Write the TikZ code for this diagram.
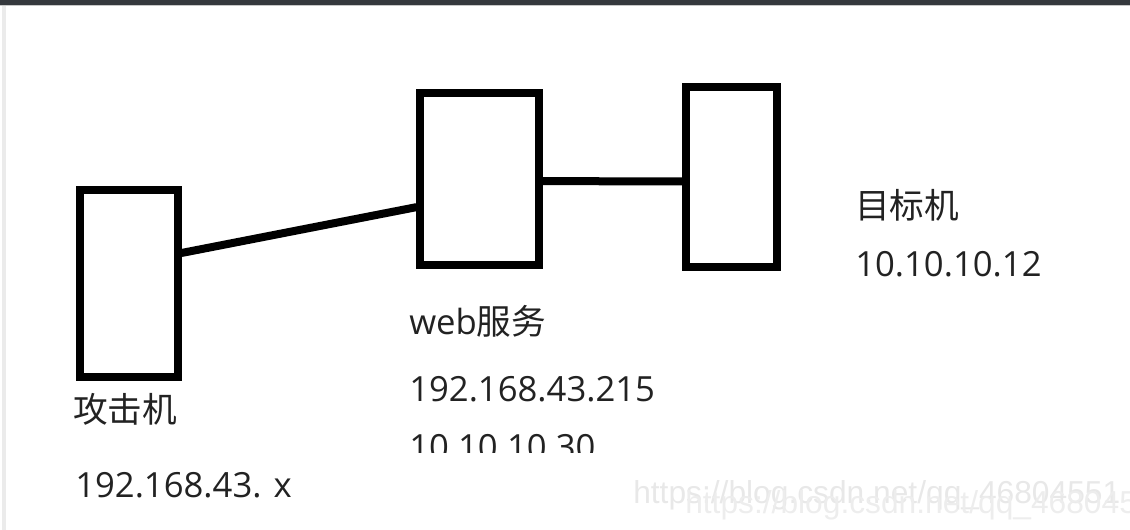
\documentclass[tikz,border=0pt]{standalone}
\usepackage{fontspec}
\setmainfont{Open Sans}
\newfontfamily\cjk{Noto Sans CJK SC}
\newfontfamily\wmfont{Liberation Sans}
\usetikzlibrary{positioning,calc}
\definecolor{barcol}{HTML}{35383D}
\definecolor{txtcol}{HTML}{222222}
\tikzset{
  hostbox/.style = {rectangle, draw=black, line width=6pt, inner sep=0pt},
  wire/.style = {draw=black, line width=6pt, line cap=round},
  lbl/.style = {anchor=base west, inner sep=0pt, text=txtcol,
    font=\fontsize{26}{30}\selectfont},
  wmark/.style = {anchor=base west, inner sep=0pt,
    font=\wmfont\fontsize{23.8}{26}\selectfont}
}

\begin{document}
\begin{tikzpicture}[x=0.75pt,y=-0.75pt]
\useasboundingbox (0,0) rectangle (1130,530);
% window frame
\fill[barcol] (0,0) rectangle (1130,5.5);
\fill[black!22] (0,5.5) rectangle (1130,6.5);
\fill[black!8] (1.5,6.5) rectangle (6,530);
% hosts
\node (att) [hostbox, minimum width=73.5pt, minimum height=140pt] at (129,283.5) {};
\node (web) [hostbox, minimum width=89pt, minimum height=129pt] at (479.5,179) {};
\node (tgt) [hostbox, minimum width=68pt, minimum height=135pt] at (731.5,177) {};
\draw[wire] (att.30) -- (web.204);
\draw[wire] (web.-2) -- (tgt.185);
% labels
\node (attname) [lbl] at (73,422) {\cjk 攻击机};
\node (attip) [lbl] at (75,497) {192.168.43. x};
\node (webname) [lbl] at (409,335) {web{\cjk 服务}};
\node (webip) [lbl] at (409,402) {192.168.43.215};
\begin{scope}
  \clip (400,420) rectangle (700,452);
  \node (webip2) [lbl] at (409,459) {10.10.10.30};
\end{scope}
\node (tgtname) [lbl] at (855,219) {\cjk 目标机};
\node (tgtip) [lbl] at (855,277) {10.10.10.12};
% watermark
\node (wm1) [wmark, text=black!9] at (633,503) {https://blog.csdn.net/qq\_46804551};
\node (wm2) [wmark, text=black!7] at (685,513) {https://blog.csdn.net/qq\_46804551};
\end{tikzpicture}
\end{document}
